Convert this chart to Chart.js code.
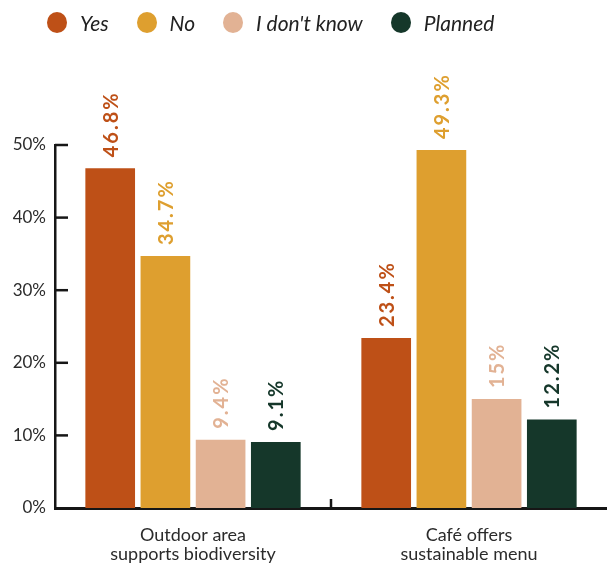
<!DOCTYPE html>
<html lang="en">
<head>
<meta charset="UTF-8">
<title>Sustainability survey</title>
<script src="https://cdn.jsdelivr.net/npm/chart.js@4"></script>
<style>
  html, body { margin: 0; padding: 0; background: #fff; }
  .wrap { position: relative; width: 607px; height: 564px; }
  .legend {
    position: absolute; top: 10px; left: 47px;
    display: flex; align-items: center; height: 24px;
    font-family: Lato, sans-serif; font-style: italic; font-size: 21px; color: #222;
  }
  .legend .item { display: flex; align-items: center; margin-right: 28px; flex-shrink: 0; }
  .legend .dot { flex: 0 0 20px; height: 21px; border-radius: 50%; margin-right: 13px; }
</style>
</head>
<body>
<div class="wrap">
  <canvas id="chart" width="607" height="564"></canvas>
  <div class="legend" id="legend"></div>
</div>
<script>
// Survey answers, in percent
const categories = [['Outdoor area', 'supports biodiversity'], ['Café offers', 'sustainable menu']];
const seriesNames = ['Yes', 'No', "I don't know", 'Planned'];
const yesValues = [46.8, 23.4];
const noValues = [34.7, 49.3];
const dontKnowValues = [9.4, 15];
const plannedValues = [9.1, 12.2];
const yTicks = [0, 10, 20, 30, 40, 50];

const colors = ['#BE5017', '#DE9F2F', '#E2B294', '#15372A'];
const textColor = '#2b2b2b';
const axisColor = '#161616';

const seriesValues = [yesValues, noValues, dontKnowValues, plannedValues];

// Legend built as plain HTML above the canvas
const legendEl = document.getElementById('legend');
seriesNames.forEach((name, i) => {
  const item = document.createElement('div');
  item.className = 'item';
  item.innerHTML = `<span class="dot" style="background:${colors[i]}"></span><span>${name}</span>`;
  legendEl.appendChild(item);
});

// Short ticks pointing into the plot, plus the divider tick on the x axis
const innerTicks = {
  id: 'innerTicks',
  afterDraw(chart) {
    const { ctx, chartArea, scales } = chart;
    ctx.save();
    ctx.strokeStyle = axisColor;
    ctx.lineWidth = 2.5;
    yTicks.slice(1).forEach(v => {
      const y = scales.y.getPixelForValue(v);
      ctx.beginPath();
      ctx.moveTo(chartArea.left, y);
      ctx.lineTo(chartArea.left + 13, y);
      ctx.stroke();
    });
    const mid = (scales.x.getPixelForValue(0) + scales.x.getPixelForValue(1)) / 2;
    ctx.beginPath();
    ctx.moveTo(mid, chartArea.bottom - 9);
    ctx.lineTo(mid, chartArea.bottom);
    ctx.stroke();
    ctx.restore();
  }
};

// Rotated value labels above each bar, in the bar's colour
const barLabels = {
  id: 'barLabels',
  afterDatasetsDraw(chart) {
    const { ctx } = chart;
    chart.data.datasets.forEach((ds, i) => {
      chart.getDatasetMeta(i).data.forEach((bar, j) => {
        ctx.save();
        ctx.translate(bar.x, bar.y - 11);
        ctx.rotate(-Math.PI / 2);
        ctx.font = 'bold 20px Lato, sans-serif';
        ctx.letterSpacing = '2px';
        ctx.fillStyle = ds.backgroundColor;
        ctx.textAlign = 'left';
        ctx.textBaseline = 'middle';
        ctx.fillText(ds.data[j] + '%', 0, 1);
        ctx.restore();
      });
    });
  }
};

new Chart(document.getElementById('chart'), {
  type: 'bar',
  data: {
    labels: categories,
    datasets: seriesNames.map((name, i) => ({
      label: name,
      data: seriesValues[i],
      backgroundColor: colors[i],
      categoryPercentage: 0.8,
      barPercentage: 0.9
    }))
  },
  options: {
    responsive: false,
    devicePixelRatio: 1,
    animation: false,
    layout: { padding: { top: 145, right: 0, left: 0, bottom: 0 } },
    plugins: {
      legend: { display: false },
      tooltip: { enabled: false }
    },
    scales: {
      x: {
        grid: { display: false, drawTicks: false },
        border: { display: true, color: axisColor, width: 3 },
        ticks: {
          color: textColor,
          padding: 17,
          font: { family: 'Lato, sans-serif', size: 18, lineHeight: 1.08 }
        },
        afterFit(scale) { scale.height = 56; }
      },
      y: {
        min: 0,
        max: 50,
        grid: { display: false, drawTicks: false },
        border: { display: true, color: axisColor, width: 2.5 },
        ticks: {
          stepSize: 10,
          padding: 9,
          color: textColor,
          font: { family: 'Lato, sans-serif', size: 17 },
          callback: v => v + '%'
        },
        afterFit(scale) { scale.width = 55; }
      }
    }
  },
  plugins: [innerTicks, barLabels]
});
</script>
</body>
</html>
